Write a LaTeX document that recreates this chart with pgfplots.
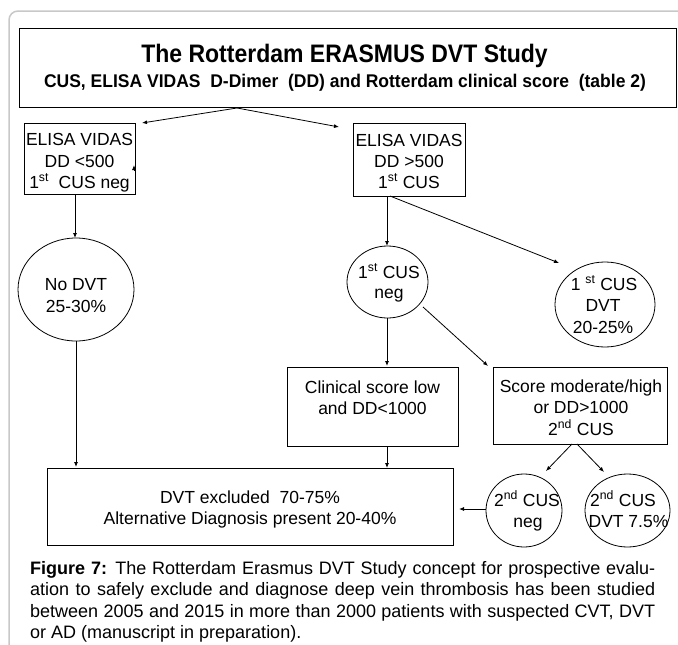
\documentclass[border=0pt]{standalone}
\usepackage{pgfplots}
\pgfplotsset{compat=1.18}
\usepackage{fontspec}
\setmainfont{Liberation Sans}
\usetikzlibrary{arrows.meta}
\newcommand\nf{\fontsize{17.5}{21}\selectfont}
\newcommand\cf{\fontsize{18}{21.5}\selectfont}
\begin{document}
\begin{tikzpicture}
\begin{axis}[width=678pt,height=645pt,scale only axis,
  xmin=0,xmax=678,ymin=0,ymax=645,y dir=reverse,hide axis,clip=false]
% outer frame
\draw[color={rgb,255:red,200;green,200;blue,200},line width=1.5pt,rounded corners=9pt]
  (axis cs:9,645) -- (axis cs:9,11) -- (axis cs:678,11);
% boxes
\begin{scope}[line width=1pt]
\draw (axis cs:19,28) rectangle (axis cs:676,107);
\draw (axis cs:24,123) rectangle (axis cs:135,194);
\draw (axis cs:353,123) rectangle (axis cs:465,196);
\draw (axis cs:287,367) rectangle (axis cs:458,446);
\draw (axis cs:493,367) rectangle (axis cs:667,444);
\draw (axis cs:47,468) rectangle (axis cs:453,545);
\end{scope}
% ellipses
\begin{scope}[line width=0.8pt]
\draw (axis cs:76,289.5) ellipse [x radius=58, y radius=51.5];
\draw (axis cs:387.5,282) ellipse [x radius=40.5, y radius=36];
\draw (axis cs:605,304.5) ellipse [x radius=50, y radius=42.5];
\draw (axis cs:524,510.5) ellipse [x radius=38, y radius=36.5];
\draw (axis cs:627.5,510.5) ellipse [x radius=42.5, y radius=36.5];
\end{scope}
% arrows
\begin{scope}[line width=0.8pt,-{Latex[length=5pt,width=4pt]}]
\draw (axis cs:237,108) -- (axis cs:142,123);
\draw (axis cs:237,108) -- (axis cs:339,127);
\draw (axis cs:134,171) -- (axis cs:134,165);
\draw (axis cs:75,194) -- (axis cs:75,238);
\draw (axis cs:76,341) -- (axis cs:76,467);
\draw (axis cs:387,196) -- (axis cs:387,246);
\draw (axis cs:390,196) -- (axis cs:559,263);
\draw (axis cs:387,318) -- (axis cs:387,366);
\draw (axis cs:423,307) -- (axis cs:488,366);
\draw (axis cs:387,446) -- (axis cs:387,468);
\draw (axis cs:572,444) -- (axis cs:546,471);
\draw (axis cs:577,444) -- (axis cs:604,472);
\draw (axis cs:486,509) -- (axis cs:459,509);
\end{scope}
% title
\node[anchor=base,font=\fontsize{23}{27}\selectfont\bfseries] at (axis cs:344.5,62) {\scalebox{1}[1.1]{The Rotterdam ERASMUS DVT Study}};
\node[anchor=base,font=\fontsize{17.5}{21}\selectfont\bfseries] at (axis cs:345,87) {\scalebox{1}[1.05]{CUS, ELISA VIDAS\ \ D-Dimer\ \ (DD) and Rotterdam clinical score\ \ (table 2)}};
% left ELISA box
\node[anchor=base,font=\nf] at (axis cs:79.5,145) {ELISA VIDAS};
\node[anchor=base,font=\nf] at (axis cs:79.5,167) {DD <500};
\node[anchor=base,font=\nf] at (axis cs:79.5,188) {1\textsuperscript{st}\ \ CUS neg};
% right ELISA box
\node[anchor=base,font=\nf] at (axis cs:409,146) {ELISA VIDAS};
\node[anchor=base,font=\nf] at (axis cs:409,167) {DD >500};
\node[anchor=base,font=\nf] at (axis cs:409,188) {1\textsuperscript{st} CUS};
% No DVT
\node[anchor=base,font=\nf] at (axis cs:76,290) {No DVT};
\node[anchor=base,font=\nf] at (axis cs:76,312) {25-30\%};
% 1st CUS neg
\node[anchor=base,font=\nf] at (axis cs:389,278) {1\textsuperscript{st} CUS};
\node[anchor=base,font=\nf] at (axis cs:389,298) {neg};
% 1st CUS DVT
\node[anchor=base,font=\nf] at (axis cs:604,290) {1 \textsuperscript{st} CUS};
\node[anchor=base,font=\nf] at (axis cs:603,311.5) {DVT};
\node[anchor=base,font=\nf] at (axis cs:603,333) {20-25\%};
% clinical box
\node[anchor=base,font=\nf] at (axis cs:372.5,393) {Clinical score low};
\node[anchor=base,font=\nf] at (axis cs:372.5,414) {and DD<1000};
% score box
\node[anchor=base,font=\nf] at (axis cs:581,392) {Score moderate/high};
\node[anchor=base,font=\nf] at (axis cs:581,413) {or DD>1000};
\node[anchor=base,font=\nf] at (axis cs:581,435) {2\textsuperscript{nd} CUS};
% 2nd CUS ellipses
\node[anchor=base,font=\nf] at (axis cs:527,506) {2\textsuperscript{nd} CUS};
\node[anchor=base,font=\nf] at (axis cs:528,527) {neg};
\node[anchor=base,font=\nf] at (axis cs:623,506) {2\textsuperscript{nd} CUS};
\node[anchor=base,font=\nf] at (axis cs:628.5,527) {DVT 7.5\%};
% bottom box
\node[anchor=base,font=\nf] at (axis cs:250,503) {DVT excluded\ \ 70-75\%};
\node[anchor=base,font=\nf] at (axis cs:250,524) {Alternative Diagnosis present 20-40\%};
% caption
\node[anchor=base west,inner sep=0pt,font=\cf] at (axis cs:30,574) {\makebox[625pt][s]{\textbf{Figure 7:} The Rotterdam Erasmus DVT Study concept for prospective evalu-}};
\node[anchor=base west,inner sep=0pt,font=\cf] at (axis cs:30,595.5) {\makebox[625pt][s]{ation to safely exclude and diagnose deep vein thrombosis has been studied}};
\node[anchor=base west,inner sep=0pt,font=\cf] at (axis cs:30,617) {\makebox[625pt][s]{between 2005 and 2015 in more than 2000 patients with suspected CVT, DVT}};
\node[anchor=base west,inner sep=0pt,font=\cf] at (axis cs:30,638.5) {or AD (manuscript in preparation).};
\end{axis}
\pgfresetboundingbox
\path (current axis.south west) rectangle (current axis.north east);
\end{tikzpicture}
\end{document}
